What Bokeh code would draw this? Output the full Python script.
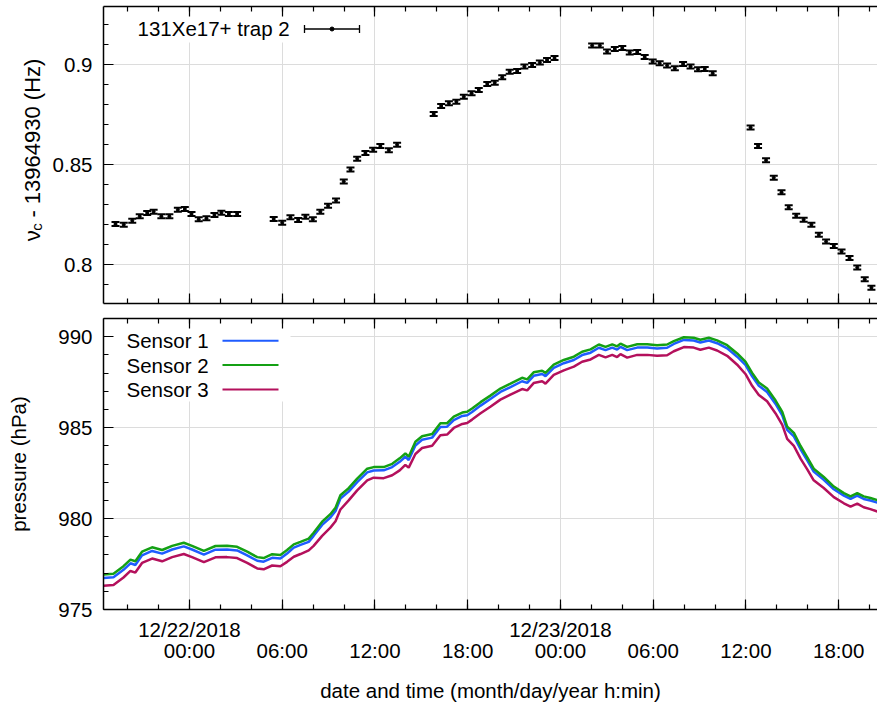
import numpy as np
import pandas as pd
from bokeh.plotting import figure
from bokeh.layouts import column, row
from bokeh.models import (ColumnDataSource, Range1d, FixedTicker, DatetimeAxis,
                          Whisker, TeeHead, Label, BoxAnnotation, Arrow)
from bokeh.core.properties import value
from bokeh.embed import file_html
from bokeh.resources import INLINE

# ---------------- data ----------------
freq_time = [
    "2018-12-21 19:13", "2018-12-21 19:45", "2018-12-21 20:18", "2018-12-21 20:47", "2018-12-21 21:16",
    "2018-12-21 21:41", "2018-12-21 22:11", "2018-12-21 22:42", "2018-12-21 23:15", "2018-12-21 23:42",
    "2018-12-22 00:08", "2018-12-22 00:36", "2018-12-22 01:06", "2018-12-22 01:37", "2018-12-22 02:04",
    "2018-12-22 02:33", "2018-12-22 03:05",
    "2018-12-22 05:27", "2018-12-22 06:00", "2018-12-22 06:32", "2018-12-22 07:02", "2018-12-22 07:30",
    "2018-12-22 07:59", "2018-12-22 08:28", "2018-12-22 08:58", "2018-12-22 09:29", "2018-12-22 09:59",
    "2018-12-22 10:25", "2018-12-22 10:51", "2018-12-22 11:23", "2018-12-22 11:53", "2018-12-22 12:21",
    "2018-12-22 12:54", "2018-12-22 13:26",
    "2018-12-22 15:48", "2018-12-22 16:17", "2018-12-22 16:47", "2018-12-22 17:16", "2018-12-22 17:45",
    "2018-12-22 18:15", "2018-12-22 18:43", "2018-12-22 19:16", "2018-12-22 19:45", "2018-12-22 20:14",
    "2018-12-22 20:43", "2018-12-22 21:12", "2018-12-22 21:40", "2018-12-22 22:10", "2018-12-22 22:40",
    "2018-12-22 23:08", "2018-12-22 23:37",
    "2018-12-23 02:03", "2018-12-23 02:33", "2018-12-23 03:01", "2018-12-23 03:31", "2018-12-23 04:00",
    "2018-12-23 04:29", "2018-12-23 04:58", "2018-12-23 05:27", "2018-12-23 05:58", "2018-12-23 06:25",
    "2018-12-23 06:54", "2018-12-23 07:24", "2018-12-23 07:56", "2018-12-23 08:25", "2018-12-23 08:54",
    "2018-12-23 09:20", "2018-12-23 09:51",
    "2018-12-23 12:18", "2018-12-23 12:47", "2018-12-23 13:18", "2018-12-23 13:48", "2018-12-23 14:18",
    "2018-12-23 14:46", "2018-12-23 15:15", "2018-12-23 15:44", "2018-12-23 16:14", "2018-12-23 16:43",
    "2018-12-23 17:11", "2018-12-23 17:41", "2018-12-23 18:11", "2018-12-23 18:42", "2018-12-23 19:12",
    "2018-12-23 19:41", "2018-12-23 20:07",
]
freq_value = [
    0.8204, 0.8201, 0.8221, 0.8243, 0.8260, 0.8266, 0.8243, 0.8243, 0.8276, 0.8280,
    0.8255, 0.8228, 0.8233, 0.8250, 0.8261, 0.8255, 0.8255,
    0.8230, 0.8211, 0.8238, 0.8225, 0.8241, 0.8228, 0.8266, 0.8296, 0.8322, 0.8417,
    0.8477, 0.8531, 0.8559, 0.8576, 0.8594, 0.8573, 0.8601,
    0.8754, 0.8794, 0.8808, 0.8816, 0.8841, 0.8858, 0.8874, 0.8905, 0.8911, 0.8938,
    0.8966, 0.8970, 0.8992, 0.9000, 0.9012, 0.9025, 0.9034,
    0.9097, 0.9097, 0.9067, 0.9079, 0.9084, 0.9062, 0.9064, 0.9039, 0.9017, 0.9008,
    0.8997, 0.8983, 0.9005, 0.8992, 0.8978, 0.8980, 0.8958,
    0.8687, 0.8594, 0.8523, 0.8436, 0.8363, 0.8288, 0.8246, 0.8226, 0.8201, 0.8151,
    0.8117, 0.8095, 0.8067, 0.8034, 0.7987, 0.7928, 0.7886,
]
freq_error = [
    0.0010, 0.0010, 0.0010, 0.0010, 0.0010, 0.0010, 0.0010, 0.0010, 0.0010, 0.0010,
    0.0010, 0.0010, 0.0010, 0.0010, 0.0010, 0.0010, 0.0010,
    0.0010, 0.0010, 0.0010, 0.0010, 0.0010, 0.0010, 0.0010, 0.0010, 0.0010, 0.0010,
    0.0010, 0.0010, 0.0010, 0.0010, 0.0010, 0.0010, 0.0010,
    0.0010, 0.0010, 0.0010, 0.0010, 0.0010, 0.0010, 0.0010, 0.0010, 0.0010, 0.0010,
    0.0010, 0.0010, 0.0010, 0.0010, 0.0010, 0.0010, 0.0010,
    0.0010, 0.0010, 0.0010, 0.0010, 0.0010, 0.0010, 0.0010, 0.0010, 0.0010, 0.0010,
    0.0010, 0.0010, 0.0010, 0.0010, 0.0010, 0.0010, 0.0010,
    0.0010, 0.0010, 0.0010, 0.0010, 0.0010, 0.0010, 0.0010, 0.0010, 0.0010, 0.0010,
    0.0010, 0.0010, 0.0010, 0.0010, 0.0010, 0.0010, 0.0010,
]

press_time = [
    "2018-12-21 18:27", "2018-12-21 19:05", "2018-12-21 19:44", "2018-12-21 20:11", "2018-12-21 20:30",
    "2018-12-21 20:56", "2018-12-21 21:35", "2018-12-21 22:14", "2018-12-21 22:53", "2018-12-21 23:38",
    "2018-12-22 00:10", "2018-12-22 00:56", "2018-12-22 01:41", "2018-12-22 02:26", "2018-12-22 03:05",
    "2018-12-22 03:44", "2018-12-22 04:23", "2018-12-22 04:48", "2018-12-22 05:21", "2018-12-22 05:53",
    "2018-12-22 06:19", "2018-12-22 06:45", "2018-12-22 07:11", "2018-12-22 07:43", "2018-12-22 08:02",
    "2018-12-22 08:35", "2018-12-22 09:07", "2018-12-22 09:27", "2018-12-22 09:46", "2018-12-22 10:18",
    "2018-12-22 10:51", "2018-12-22 11:30", "2018-12-22 11:55", "2018-12-22 12:34", "2018-12-22 13:07",
    "2018-12-22 13:36", "2018-12-22 13:58", "2018-12-22 14:11", "2018-12-22 14:37", "2018-12-22 15:03",
    "2018-12-22 15:42", "2018-12-22 16:14", "2018-12-22 16:40", "2018-12-22 17:06", "2018-12-22 17:39",
    "2018-12-22 17:58", "2018-12-22 18:17", "2018-12-22 18:50", "2018-12-22 19:28", "2018-12-22 20:07",
    "2018-12-22 20:46", "2018-12-22 21:31", "2018-12-22 21:51", "2018-12-22 22:16", "2018-12-22 22:49",
    "2018-12-22 23:02", "2018-12-22 23:34",
    "2018-12-23 00:13", "2018-12-23 00:52", "2018-12-23 01:24", "2018-12-23 01:57", "2018-12-23 02:29",
    "2018-12-23 02:55", "2018-12-23 03:21", "2018-12-23 03:40", "2018-12-23 03:53", "2018-12-23 04:19",
    "2018-12-23 04:58", "2018-12-23 05:37", "2018-12-23 06:15", "2018-12-23 06:54", "2018-12-23 07:20",
    "2018-12-23 07:59", "2018-12-23 08:37", "2018-12-23 09:03", "2018-12-23 09:36", "2018-12-23 10:08",
    "2018-12-23 10:47", "2018-12-23 11:26", "2018-12-23 11:58", "2018-12-23 12:24", "2018-12-23 12:50",
    "2018-12-23 13:22", "2018-12-23 13:55", "2018-12-23 14:21", "2018-12-23 14:40", "2018-12-23 15:06",
    "2018-12-23 15:32", "2018-12-23 15:58", "2018-12-23 16:23", "2018-12-23 17:02", "2018-12-23 17:41",
    "2018-12-23 18:20", "2018-12-23 18:46", "2018-12-23 19:12", "2018-12-23 19:37", "2018-12-23 20:03",
    "2018-12-23 20:31",
]
sensor1 = [
    976.73, 976.77, 977.18, 977.54, 977.45, 977.98, 978.22, 978.07, 978.30, 978.47,
    978.30, 978.02, 978.29, 978.30, 978.25, 977.98, 977.68, 977.63, 977.84, 977.80,
    978.08, 978.40, 978.55, 978.72, 979.05, 979.65, 980.06, 980.42, 981.10, 981.48,
    982.00, 982.54, 982.64, 982.65, 982.83, 983.12, 983.40, 983.22, 984.02, 984.33,
    984.45, 985.04, 985.05, 985.41, 985.64, 985.68, 985.86, 986.21, 986.57, 986.96,
    987.23, 987.55, 987.46, 987.85, 987.95, 987.83, 988.28, 988.54, 988.72, 988.99,
    989.12, 989.39, 989.26, 989.40, 989.29, 989.44, 989.26, 989.40, 989.40, 989.35,
    989.39, 989.60, 989.82, 989.79, 989.68, 989.79, 989.64, 989.36, 988.90, 988.45,
    987.82, 987.30, 986.96, 986.30, 985.68, 984.88, 984.52, 983.81, 983.20, 982.58,
    982.13, 981.61, 981.26, 981.08, 981.26, 981.08, 980.99, 980.87,
]
sensor2 = [
    976.93, 976.97, 977.38, 977.74, 977.65, 978.18, 978.42, 978.27, 978.50, 978.67,
    978.50, 978.22, 978.49, 978.50, 978.45, 978.18, 977.88, 977.83, 978.04, 978.00,
    978.27, 978.58, 978.72, 978.90, 979.22, 979.83, 980.24, 980.60, 981.28, 981.67,
    982.20, 982.74, 982.83, 982.83, 983.01, 983.31, 983.58, 983.40, 984.22, 984.53,
    984.65, 985.24, 985.24, 985.60, 985.83, 985.87, 986.05, 986.40, 986.76, 987.15,
    987.42, 987.74, 987.65, 988.04, 988.13, 988.01, 988.46, 988.72, 988.90, 989.17,
    989.30, 989.57, 989.44, 989.58, 989.47, 989.62, 989.44, 989.58, 989.58, 989.53,
    989.57, 989.76, 989.97, 989.94, 989.83, 989.94, 989.80, 989.53, 989.08, 988.63,
    988.01, 987.48, 987.15, 986.49, 985.87, 985.06, 984.71, 983.99, 983.37, 982.74,
    982.29, 981.76, 981.40, 981.22, 981.40, 981.22, 981.13, 981.01,
]
sensor3 = [
    976.31, 976.35, 976.76, 977.12, 977.03, 977.56, 977.80, 977.65, 977.88, 978.05,
    977.88, 977.60, 977.87, 977.88, 977.83, 977.56, 977.26, 977.21, 977.42, 977.38,
    977.62, 977.90, 978.05, 978.25, 978.50, 979.05, 979.50, 979.85, 980.50, 981.00,
    981.55, 982.10, 982.25, 982.22, 982.38, 982.65, 982.95, 982.80, 983.55, 983.88,
    984.00, 984.58, 984.62, 984.98, 985.20, 985.25, 985.44, 985.79, 986.15, 986.54,
    986.82, 987.12, 987.05, 987.45, 987.55, 987.42, 987.90, 988.15, 988.35, 988.62,
    988.75, 989.00, 988.86, 989.00, 988.88, 989.04, 988.85, 989.00, 989.00, 988.95,
    988.98, 989.20, 989.43, 989.40, 989.28, 989.40, 989.24, 988.95, 988.46, 987.95,
    987.30, 986.80, 986.45, 985.78, 985.15, 984.38, 984.00, 983.30, 982.70, 982.10,
    981.68, 981.18, 980.84, 980.66, 980.82, 980.62, 980.52, 980.38,
]
sensor_names = ["Sensor 1", "Sensor 2", "Sensor 3"]
sensor_colors = ["#1f5cff", "#14a014", "#b4105c"]

freq_label = "131Xe17+ trap 2"
y1_title = ["ν", "c", "- 13964930 (Hz)"]
x_tick_hours = [0, 6, 12, 18, 24, 30, 36, 42]
x_tick_times = ["00:00", "06:00", "12:00", "18:00", "00:00", "06:00", "12:00", "18:00"]
x_tick_dates = {0: "12/22/2018", 24: "12/23/2018"}
y1_ticks = [0.8, 0.85, 0.9]
y1_tick_labels = ["0.8", "0.85", "0.9"]
y2_ticks = [975, 980, 985, 990]

# ---------------- layout constants ----------------
FONT = "Liberation Sans"
FS = "20.5px"
TFS = 22                     # font size of the rotated top title
GRID = "#dcdcdc"
W = 877
LW = 48                      # width of the strip that holds the rotated top title
FL, FR = 103, 877            # frame left / right in px
T1, B1 = 6, 303              # top panel frame
T2, B2 = 318, 616            # bottom panel frame
H1 = 310

BASE = pd.Timestamp("2018-12-22 00:00")
EPOCH = pd.Timestamp("1970-01-01")


def to_ms(ts):
    return int((pd.Timestamp(ts) - EPOCH).total_seconds() * 1000)


HOUR = 3600 * 1000
x0 = to_ms(BASE) - 5.56 * HOUR
x1 = to_ms(BASE) + 44.51 * HOUR
Y1 = (0.7807, 0.9292)
Y2 = (975.0, 991.0)

major_ms = [to_ms(BASE) + h * HOUR for h in x_tick_hours]
minor_ms = [to_ms(BASE) + h * HOUR for h in range(-4, 46, 2)]


def fx(px):
    return x0 + (px - FL) / (FR - FL) * (x1 - x0)


def fy1(py):
    return Y1[1] - (py - T1) / (B1 - T1) * (Y1[1] - Y1[0])


def fy2(py):
    return Y2[1] - (py - T2) / (B2 - T2) * (Y2[1] - Y2[0])


def style_axis(ax, ticker, show_labels=True):
    ax.ticker = ticker
    ax.axis_line_color = "black"
    ax.axis_line_width = 1.5
    ax.major_tick_line_color = "black"
    ax.minor_tick_line_color = "black"
    ax.major_tick_line_width = 1.2
    ax.minor_tick_line_width = 1.2
    ax.major_tick_in = 10
    ax.major_tick_out = 0
    ax.minor_tick_in = 5
    ax.minor_tick_out = 0
    ax.major_label_text_font = FONT
    ax.major_label_text_font_size = FS
    ax.major_label_text_color = "black"
    ax.axis_label_text_font = FONT
    ax.axis_label_text_font_size = FS
    ax.axis_label_text_font_style = "normal"
    ax.axis_label_text_color = "black"
    if not show_labels:
        ax.major_label_text_font_size = "0px"
        ax.major_label_standoff = 0
        ax.major_label_overrides = {int(t): "" for t in ticker.ticks}


def xticker():
    return FixedTicker(ticks=[int(t) for t in major_ms], minor_ticks=[int(t) for t in minor_ms])


xr = Range1d(x0, x1)

# ---------------- strip with the rotated y title of the top panel ----------------
pt = figure(width=LW, height=H1, x_range=Range1d(0, LW), y_range=Range1d(H1, 0),
            output_backend="svg", toolbar_location=None, x_axis_location=None,
            y_axis_location=None, min_border=0, min_border_left=0, min_border_right=0,
            min_border_top=0, min_border_bottom=0)
pt.outline_line_color = None
pt.xgrid.visible = False
pt.ygrid.visible = False
YS = 245
pt.text(x=[31.5], y=[YS], text=[y1_title[0]], angle=np.pi / 2, text_font=value(FONT),
        text_font_size=value(f"{TFS}px"), text_align="left", text_baseline="alphabetic",
        text_color="black")
pt.text(x=[35.5], y=[YS - 0.5 * TFS], text=[y1_title[1]], angle=np.pi / 2,
        text_font=value(FONT), text_font_size=value("15px"), text_align="left",
        text_baseline="alphabetic", text_color="black")
pt.text(x=[31.5], y=[YS - 0.5 * TFS - 7.5 - 0.28 * TFS], text=[y1_title[2]], angle=np.pi / 2,
        text_font=value(FONT), text_font_size=value(f"{TFS}px"), text_align="left",
        text_baseline="alphabetic", text_color="black")

# ---------------- top panel ----------------
p1 = figure(width=W - LW, height=H1, x_range=xr, y_range=Range1d(*Y1),
            x_axis_type="datetime", output_backend="svg", toolbar_location=None,
            min_border_left=FL - LW, min_border_right=0, min_border_top=T1,
            min_border_bottom=H1 - B1)
p1.outline_line_color = None
p1.background_fill_color = "white"
p1.border_fill_color = "white"

style_axis(p1.xaxis[0], xticker(), show_labels=False)
ax_top1 = DatetimeAxis()
style_axis(ax_top1, xticker(), show_labels=False)
p1.add_layout(ax_top1, "above")

yax1 = p1.yaxis[0]
style_axis(yax1, FixedTicker(ticks=y1_ticks,
                             minor_ticks=[round(v, 2) for v in np.arange(0.78, 0.93, 0.01)]))
yax1.major_label_standoff = 11
yax1.major_label_overrides = {t: s for t, s in zip(y1_ticks, y1_tick_labels)}

p1.xgrid.ticker = FixedTicker(ticks=[int(t) for t in major_ms])
p1.ygrid.ticker = FixedTicker(ticks=y1_ticks)
for g in (p1.xgrid, p1.ygrid):
    g.grid_line_color = GRID
    g.grid_line_width = 1

# legend background (hides the grid behind the key)
p1.add_layout(BoxAnnotation(left=x0, right=fx(368), bottom=fy1(42), top=Y1[1],
                            fill_color="white", fill_alpha=1.0, line_color=None,
                            level="underlay"))

fv = np.array(freq_value)
fe = np.array(freq_error)
src1 = ColumnDataSource(dict(t=pd.to_datetime(freq_time), v=fv, lo=fv - fe, hi=fv + fe))
p1.add_layout(Whisker(source=src1, base="t", lower="lo", upper="hi", dimension="height",
                      line_color="black", line_width=2, level="glyph",
                      upper_head=TeeHead(size=8, line_color="black", line_width=2),
                      lower_head=TeeHead(size=8, line_color="black", line_width=2)))
p1.scatter("t", "v", source=src1, size=3, color="black")

# legend key of the top panel
p1.add_layout(Label(x=fx(137), y=fy1(28), text=freq_label, text_font=FONT, text_font_size=FS,
                    text_baseline="middle", text_align="left", text_color="black"))
p1.add_layout(Arrow(x_start=fx(304), y_start=fy1(28.5), x_end=fx(359), y_end=fy1(28.5),
                    line_color="black", line_width=1.3,
                    start=TeeHead(size=8, line_color="black", line_width=1.3),
                    end=TeeHead(size=8, line_color="black", line_width=1.3)))
p1.scatter(x=[fx(331.5)], y=[fy1(28.5)], size=4, color="black")

# ---------------- bottom panel ----------------
H2 = 394
p2 = figure(width=W, height=H2, x_range=xr, y_range=Range1d(*Y2),
            x_axis_type="datetime", output_backend="svg", toolbar_location=None,
            min_border_left=FL, min_border_right=0, min_border_top=T2 - H1,
            min_border_bottom=H2 - (B2 - H1))
p2.outline_line_color = None
p2.background_fill_color = "white"
p2.border_fill_color = "white"

date_ax = p2.xaxis[0]
style_axis(date_ax, xticker())
date_ax.major_label_standoff = 8
date_ax.major_label_overrides = {int(to_ms(BASE) + h * HOUR): x_tick_dates.get(h, "")
                                 for h in x_tick_hours}

time_ax = DatetimeAxis()
style_axis(time_ax, FixedTicker(ticks=[int(t) for t in major_ms], minor_ticks=[]))
time_ax.axis_line_color = None
time_ax.major_tick_line_color = None
time_ax.minor_tick_line_color = None
time_ax.major_tick_in = 0
time_ax.minor_tick_in = 0
time_ax.major_label_standoff = -5
time_ax.major_label_overrides = {int(to_ms(BASE) + h * HOUR): s
                                 for h, s in zip(x_tick_hours, x_tick_times)}
time_ax.axis_label = "date and time (month/day/year h:min)"
time_ax.axis_label_standoff = 14
p2.add_layout(time_ax, "below")

ax_top2 = DatetimeAxis()
style_axis(ax_top2, xticker(), show_labels=False)
p2.add_layout(ax_top2, "above")

yax2 = p2.yaxis[0]
style_axis(yax2, FixedTicker(ticks=y2_ticks, minor_ticks=list(range(975, 992))))
yax2.major_label_standoff = 11
yax2.axis_label = "pressure (hPa)"
yax2.axis_label_standoff = 25

p2.xgrid.ticker = FixedTicker(ticks=[int(t) for t in major_ms])
p2.ygrid.ticker = FixedTicker(ticks=y2_ticks)
for g in (p2.xgrid, p2.ygrid):
    g.grid_line_color = GRID
    g.grid_line_width = 1

p2.add_layout(BoxAnnotation(left=x0, right=fx(290), bottom=fy2(403), top=Y2[1],
                            fill_color="white", fill_alpha=1.0, line_color=None,
                            level="underlay"))

src2 = ColumnDataSource(dict(t=pd.to_datetime(press_time), s1=sensor1, s2=sensor2, s3=sensor3))
for col, c in zip(["s1", "s2", "s3"], sensor_colors):
    p2.line("t", col, source=src2, line_color=c, line_width=2.5)

for i, (name, c) in enumerate(zip(sensor_names, sensor_colors)):
    yy = 340.7 + 25 * i
    p2.add_layout(Label(x=fx(126), y=fy2(yy), text=name, text_font=FONT, text_font_size=FS,
                        text_baseline="middle", text_align="left", text_color="black"))
    p2.add_layout(Arrow(x_start=fx(222), y_start=fy2(yy), x_end=fx(278), y_end=fy2(yy),
                        line_color=c, line_width=2, start=None, end=None))

layout = column(row(pt, p1), p2)
open("out.html", "w").write(file_html(layout, INLINE))
